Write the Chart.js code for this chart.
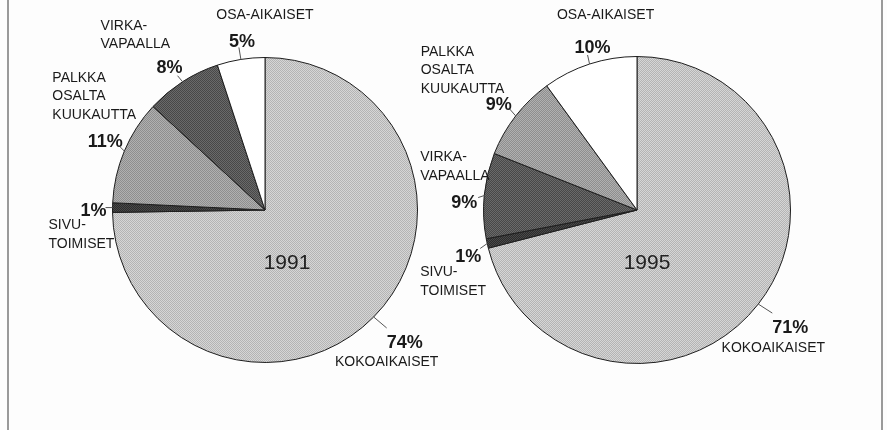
<!DOCTYPE html>
<html>
<head>
<meta charset="utf-8">
<script src="https://cdn.jsdelivr.net/npm/chart.js@4"></script>
<style>
  html, body { margin: 0; padding: 0; background: #fdfdfd; }
  #wrap { position: relative; width: 887px; height: 430px; overflow: hidden; }
  #frame { position: absolute; left: 7px; top: -2px; width: 872px; height: 440px;
           border-left: 2px solid #9a9a9a; border-right: 2px solid #9a9a9a; }
  canvas { position: absolute; top: 0; }
  #c1991 { left: 0; }
  #c1995 { left: 357px; }
</style>
</head>
<body>
<div id="wrap">
  <div id="frame"></div>
  <canvas id="c1991" width="530" height="430"></canvas>
  <canvas id="c1995" width="530" height="430"></canvas>
</div>
<script>
// ==========================================================================
// DATA
// ==========================================================================

const years = ['1991', '1995'];

// slice names, one array of lines per slice
const cats1991 = [['KOKOAIKAISET'], ['SIVU-', 'TOIMISET'], ['PALKKA', 'OSALTA', 'KUUKAUTTA'], ['VIRKA-', 'VAPAALLA'], ['OSA-AIKAISET']];
const vals1991 = [74, 1, 11, 8, 5];

const cats1995 = [['KOKOAIKAISET'], ['SIVU-', 'TOIMISET'], ['VIRKA-', 'VAPAALLA'], ['PALKKA', 'OSALTA', 'KUUKAUTTA'], ['OSA-AIKAISET']];
const vals1995 = [71, 1, 9, 9, 10];

// ==========================================================================
// STYLE
// ==========================================================================

const FONT = '"Liberation Sans", Arial, sans-serif';

// halftone-ish fills per category
function halftone(base, dot) {
  const c = document.createElement('canvas');
  c.width = 2; c.height = 2;
  const g = c.getContext('2d');
  g.fillStyle = base; g.fillRect(0, 0, 2, 2);
  g.fillStyle = dot; g.fillRect(0, 0, 1, 1); g.fillRect(1, 1, 1, 1);
  return g.createPattern(c, 'repeat');
}

const fills = {
  'KOKOAIKAISET': halftone('#d6d6d6', '#b4b4b4'),
  'SIVU-': halftone('#4a4a4a', '#2c2c2c'),
  'PALKKA': halftone('#b0b0b0', '#8e8e8e'),
  'VIRKA-': halftone('#6a6a6a', '#484848'),
  'OSA-AIKAISET': '#ffffff'
};

// label placement relative to slice edge point: leader end, percent centre, name anchor
const layout1991 = [
  { lead: [13, 11], pct: [31, 26], name: [13, 45], align: 'center' },
  { lead: [-7, 0], pct: [-19, 3], name: [-64, 18], align: 'left' },
  { lead: [-4, -4], pct: [-19, -9], name: [-72, -73], align: 'left' },
  { lead: [-5, -6], pct: [-13, -14], name: [-82, -56], align: 'left' },
  { lead: [-2, -12], pct: [1, -17], name: [24, -44], align: 'center' }
];
const layout1995 = [
  { lead: [14, 9], pct: [32, 24], name: [15, 44], align: 'center' },
  { lead: [-7, 5], pct: [-19, 14], name: [-67, 29], align: 'left' },
  { lead: [-6, 2], pct: [-20, 7], name: [-64, -38], align: 'left' },
  { lead: [-7, -8], pct: [-17, -11], name: [-95, -64], align: 'left' },
  { lead: [-2, -9], pct: [3, -16], name: [16, -49], align: 'center' }
];

// ==========================================================================
// LABEL PLUGIN
// ==========================================================================

const pieLabels = {
  id: 'pieLabels',
  afterDatasetsDraw(chart, args, opts) {
    const ctx = chart.ctx;
    const meta = chart.getDatasetMeta(0);
    const data = chart.data.datasets[0].data;
    const names = chart.data.labels;
    let cx = 0, cy = 0;

    ctx.save();
    meta.data.forEach((arc, i) => {
      const p = arc.getProps(['x', 'y', 'startAngle', 'endAngle', 'outerRadius'], true);
      cx = p.x; cy = p.y;
      const mid = (p.startAngle + p.endAngle) / 2;
      const ex = p.x + Math.cos(mid) * p.outerRadius;
      const ey = p.y + Math.sin(mid) * p.outerRadius;
      const l = opts.layout[i];

      // leader line
      ctx.strokeStyle = '#555';
      ctx.lineWidth = 1;
      ctx.beginPath();
      ctx.moveTo(ex, ey);
      ctx.lineTo(ex + l.lead[0], ey + l.lead[1]);
      ctx.stroke();

      // percent
      ctx.fillStyle = '#1a1a1a';
      ctx.textAlign = 'center';
      ctx.textBaseline = 'middle';
      ctx.font = `bold 18px ${FONT}`;
      ctx.fillText(data[i] + '%', ex + l.pct[0], ey + l.pct[1]);

      // name
      ctx.font = `14px ${FONT}`;
      ctx.textAlign = l.align;
      names[i].forEach((line, k) => {
        ctx.fillText(line, ex + l.name[0], ey + l.name[1] + k * 18.5);
      });
    });

    // year in the big slice
    ctx.font = `21px ${FONT}`;
    ctx.textAlign = 'center';
    ctx.textBaseline = 'middle';
    ctx.fillStyle = '#222';
    ctx.fillText(opts.year, cx + opts.yearOffset[0], cy + opts.yearOffset[1]);
    ctx.restore();
  }
};

// ==========================================================================
// CHARTS
// ==========================================================================

function makePie(canvasId, cats, vals, year, layout, padding, yearOffset) {
  const ctx = document.getElementById(canvasId).getContext('2d');
  return new Chart(ctx, {
    type: 'pie',
    data: {
      labels: cats,
      datasets: [{
        data: vals,
        backgroundColor: cats.map(c => fills[c[0]]),
        borderColor: '#1e1e1e',
        borderWidth: 1
      }]
    },
    options: {
      responsive: false,
      animation: false,
      layout: { padding: padding },
      plugins: {
        legend: { display: false },
        tooltip: { enabled: false },
        pieLabels: { layout: layout, year: year, yearOffset: yearOffset }
      }
    },
    plugins: [pieLabels]
  });
}

makePie('c1991', cats1991, vals1991, years[0], layout1991,
  { left: 112, right: 112, top: 57, bottom: 67 }, [22, 53]);
makePie('c1995', cats1995, vals1995, years[1], layout1995,
  { left: 126, right: 96, top: 56, bottom: 66 }, [10, 53]);
</script>
</body>
</html>
